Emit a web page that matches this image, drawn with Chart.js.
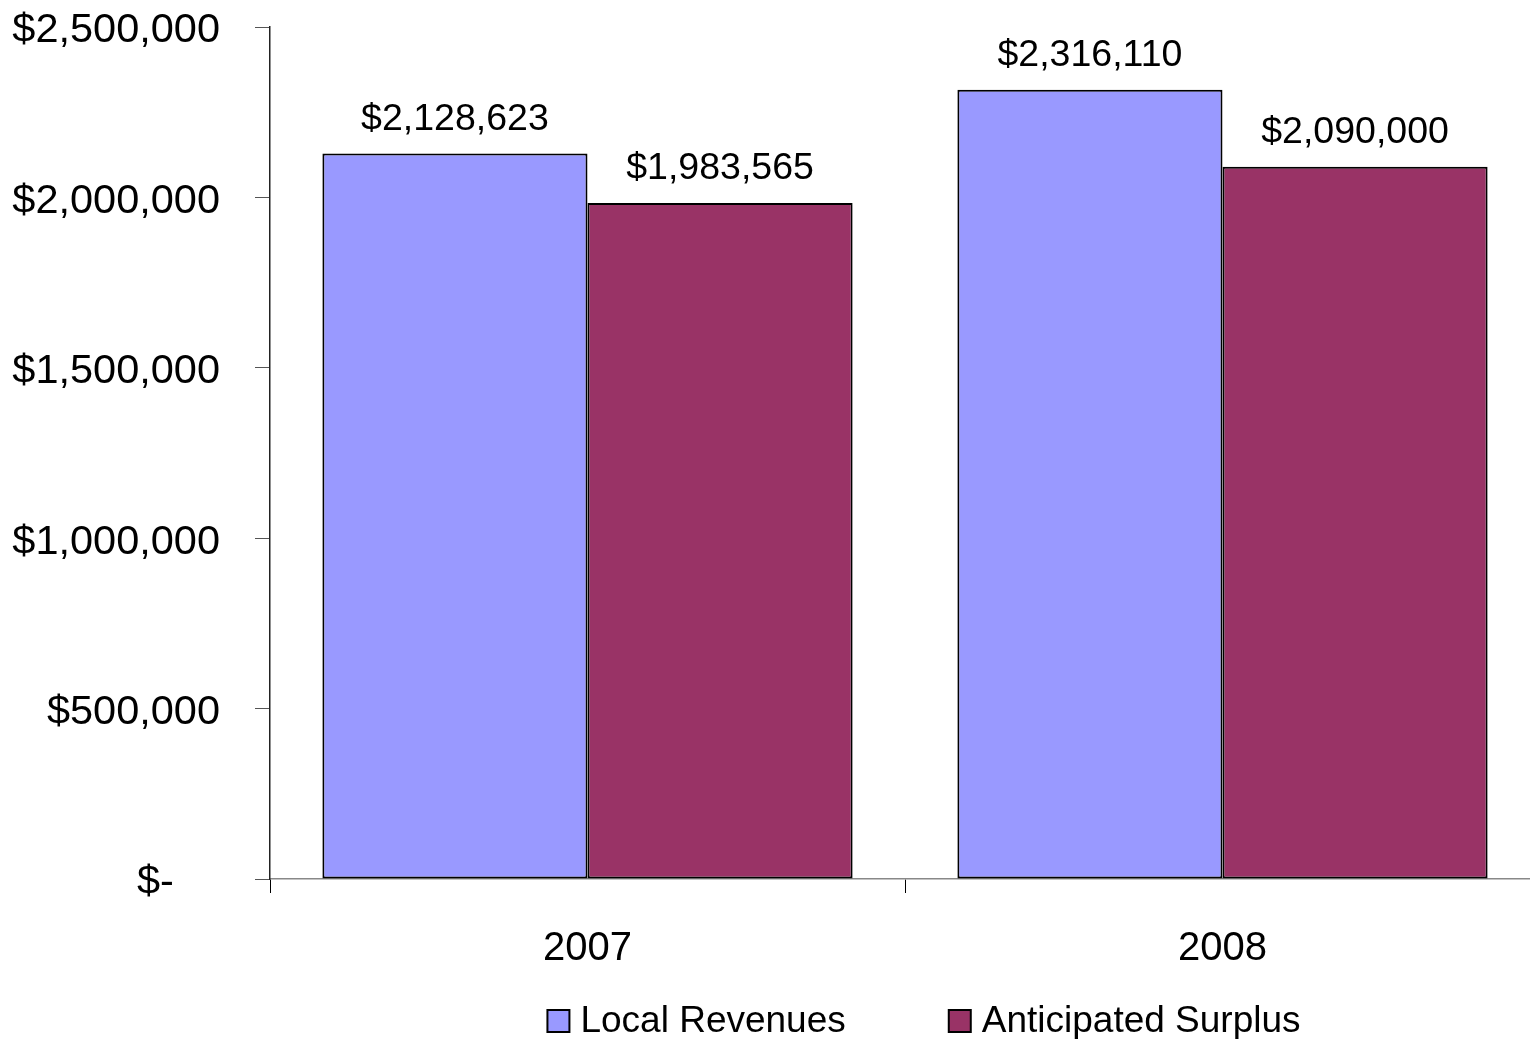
<!DOCTYPE html>
<html>
<head>
<meta charset="utf-8">
<title>Local Revenues vs Anticipated Surplus</title>
<script src="https://cdn.jsdelivr.net/npm/chart.js@4.4.1/dist/chart.umd.min.js"></script>
<style>
  html, body { margin: 0; padding: 0; background: #fff; overflow: hidden; }
  #wrap { position: relative; width: 1540px; height: 1039px; }
</style>
</head>
<body>
<div id="wrap"><canvas id="myChart"></canvas></div>
<script>
const years = ['2007', '2008'];
const localRevenues = [2128623, 2316110];
const anticipatedSurplus = [1983565, 2090000];
const seriesNames = ['Local Revenues', 'Anticipated Surplus'];
const yTicks = [0, 500000, 1000000, 1500000, 2000000, 2500000];

const FONT = "'Liberation Sans', Arial, sans-serif";

function money(v) {
  if (v === 0) return '$-    ';
  return '$' + v.toLocaleString('en-US');
}

// value labels above each bar
const barLabels = {
  id: 'barLabels',
  afterDatasetsDraw(chart) {
    const ctx = chart.ctx;
    ctx.save();
    ctx.font = '37.5px ' + FONT;
    ctx.fillStyle = '#000';
    ctx.textAlign = 'center';
    ctx.textBaseline = 'middle';
    chart.data.datasets.forEach((ds, i) => {
      chart.getDatasetMeta(i).data.forEach((bar, j) => {
        ctx.fillText(money(ds.data[j]), bar.x, bar.y - 34);
      });
    });
    ctx.restore();
  }
};

// legend along the bottom
const bottomLegend = {
  id: 'bottomLegend',
  afterDraw(chart) {
    const ctx = chart.ctx;
    const box = 22, gapText = 11, gapItem = 103;
    ctx.save();
    ctx.font = '37px ' + FONT;
    ctx.textBaseline = 'middle';
    ctx.textAlign = 'left';
    const items = chart.data.datasets.map(ds => ({
      text: ds.label, color: ds.backgroundColor, w: ctx.measureText(ds.label).width
    }));
    let total = 0;
    items.forEach((it, i) => { total += box + gapText + it.w + (i ? gapItem : 0); });
    let x = 924 - total / 2;
    const y = 1021;
    items.forEach(it => {
      ctx.fillStyle = it.color;
      ctx.fillRect(x, y - box / 2, box, box);
      ctx.lineWidth = 2;
      ctx.strokeStyle = '#000';
      ctx.strokeRect(x, y - box / 2, box, box);
      ctx.fillStyle = '#000';
      ctx.fillText(it.text, x + box + gapText, y + 1);
      x += box + gapText + it.w + gapItem;
    });
    ctx.restore();
  }
};

new Chart(document.getElementById('myChart'), {
  type: 'bar',
  data: {
    labels: years,
    datasets: [{
      label: seriesNames[0],
      data: localRevenues,
      backgroundColor: '#9999FF',
      borderColor: '#000',
      borderWidth: 2,
      borderSkipped: false
    }, {
      label: seriesNames[1],
      data: anticipatedSurplus,
      backgroundColor: '#993366',
      borderColor: '#000',
      borderWidth: 2,
      borderSkipped: false
    }]
  },
  options: {
    responsive: true,
    maintainAspectRatio: false,
    animation: false,
    layout: { padding: { top: 27, right: 0, bottom: 0, left: 0 } },
    datasets: { bar: { categoryPercentage: 0.835, barPercentage: 1 } },
    plugins: {
      legend: { display: false },
      tooltip: { enabled: false }
    },
    scales: {
      x: {
        grid: { offset: true, drawOnChartArea: false, tickLength: 14, color: '#000', lineWidth: 1 },
        border: { color: '#888', width: 1.5 },
        ticks: { font: { family: FONT, size: 40 }, color: '#000', padding: 32 },
        afterFit(scale) { scale.height = 1039 - 27 - 852; }
      },
      y: {
        min: 0,
        max: 2500000,
        afterBuildTicks(scale) { scale.ticks = yTicks.map(v => ({ value: v })); },
        grid: { drawOnChartArea: false, tickLength: 15, color: '#555', lineWidth: 1 },
        border: { color: '#222', width: 1.5 },
        ticks: {
          font: { family: FONT, size: 41.5 },
          color: '#000',
          padding: 35,
          labelOffset: 4,
          callback: v => money(v)
        },
        afterFit(scale) {
          scale.width = 270;
          scale.paddingTop = 0;
          scale.paddingBottom = 0;
        }
      }
    }
  },
  plugins: [barLabels, bottomLegend]
});
</script>
</body>
</html>
